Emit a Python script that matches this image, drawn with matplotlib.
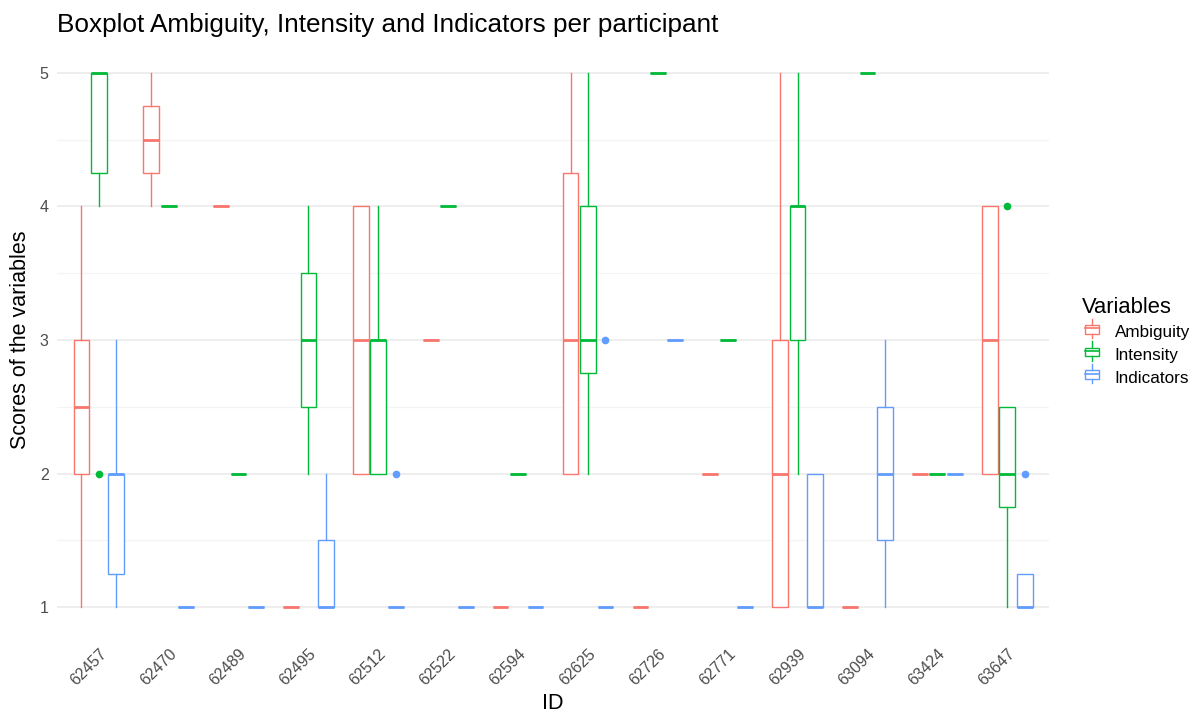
import matplotlib.pyplot as plt
import numpy as np
from matplotlib.legend_handler import HandlerBase
from matplotlib.patches import Rectangle
from matplotlib.lines import Line2D

plt.rcParams['font.family'] = ['Liberation Sans', 'DejaVu Sans']

ids = ['62457', '62470', '62489', '62495', '62512', '62522', '62594',
       '62625', '62726', '62771', '62939', '63094', '63424', '63647']
variables = ['Ambiguity', 'Intensity', 'Indicators']
colors = ['#F8766D', '#00BA38', '#619CFF']

# (whisker low, q1, median, q3, whisker high) per participant
ambiguity = [(1, 2, 2.5, 3, 4), (4, 4.25, 4.5, 4.75, 5), (4, 4, 4, 4, 4),
             (1, 1, 1, 1, 1), (2, 2, 3, 4, 4), (3, 3, 3, 3, 3),
             (1, 1, 1, 1, 1), (2, 2, 3, 4.25, 5), (1, 1, 1, 1, 1),
             (2, 2, 2, 2, 2), (1, 1, 2, 3, 5), (1, 1, 1, 1, 1),
             (2, 2, 2, 2, 2), (2, 2, 3, 4, 4)]
intensity = [(4, 4.25, 5, 5, 5), (4, 4, 4, 4, 4), (2, 2, 2, 2, 2),
             (2, 2.5, 3, 3.5, 4), (2, 2, 3, 3, 4), (4, 4, 4, 4, 4),
             (2, 2, 2, 2, 2), (2, 2.75, 3, 4, 5), (5, 5, 5, 5, 5),
             (3, 3, 3, 3, 3), (2, 3, 4, 4, 5), (5, 5, 5, 5, 5),
             (2, 2, 2, 2, 2), (1, 1.75, 2, 2.5, 2.5)]
indicators = [(1, 1.25, 2, 2, 3), (1, 1, 1, 1, 1), (1, 1, 1, 1, 1),
              (1, 1, 1, 1.5, 2), (1, 1, 1, 1, 1), (1, 1, 1, 1, 1),
              (1, 1, 1, 1, 1), (1, 1, 1, 1, 1), (3, 3, 3, 3, 3),
              (1, 1, 1, 1, 1), (1, 1, 1, 2, 2), (1, 1.5, 2, 2.5, 3),
              (2, 2, 2, 2, 2), (1, 1, 1, 1.25, 1.25)]

# outliers by participant index
ambiguity_out = {}
intensity_out = {0: [2], 13: [4]}
indicators_out = {4: [2], 7: [3], 13: [2]}

summaries = [ambiguity, intensity, indicators]
outliers = [ambiguity_out, intensity_out, indicators_out]


def make_stats(rows, outs):
    stats = []
    for i, (lo, q1, med, q3, hi) in enumerate(rows):
        stats.append(dict(whislo=lo, q1=q1, med=med, q3=q3, whishi=hi,
                          fliers=outs.get(i, [])))
    return stats


class BoxKeyHandler(HandlerBase):
    # small boxplot glyph for the legend keys
    def create_artists(self, legend, orig_handle, xdescent, ydescent,
                       width, height, fontsize, trans):
        c = orig_handle.get_edgecolor()
        cx = width / 2 - xdescent
        bw = width * 0.75
        top = height * 1.05
        bot = -height * 0.05
        rect = Rectangle((cx - bw / 2, bot + height * 0.25), bw, height * 0.5,
                         facecolor='white', edgecolor=c, lw=1.0, transform=trans)
        med = Line2D([cx - bw / 2, cx + bw / 2], [height / 2, height / 2],
                     color=c, lw=1.2, transform=trans)
        w1 = Line2D([cx, cx], [bot, bot + height * 0.25], color=c, lw=1.0, transform=trans)
        w2 = Line2D([cx, cx], [bot + height * 0.75, top], color=c, lw=1.0, transform=trans)
        return [rect, med, w1, w2]


fig = plt.figure(figsize=(11.99, 7.15), dpi=100)
ax = fig.add_axes([0.0475, 0.1133, 0.8275, 0.8224])

x = np.arange(1, len(ids) + 1)
offsets = [-0.25, 0.0, 0.25]

for k in range(3):
    c = colors[k]
    ax.bxp(make_stats(summaries[k], outliers[k]), positions=x + offsets[k],
           widths=0.225, showcaps=False, patch_artist=True,
           boxprops=dict(facecolor='white', edgecolor=c, linewidth=1.0),
           whiskerprops=dict(color=c, linewidth=1.0),
           medianprops=dict(color=c, linewidth=2.0, solid_capstyle='butt'),
           flierprops=dict(marker='o', markerfacecolor=c, markeredgecolor=c,
                           markersize=4.5, linestyle='none'),
           manage_ticks=False, zorder=3)

ax.set_xlim(0.4, len(ids) + 0.6)
ax.set_ylim(0.8, 5.2)
ax.set_yticks([1, 2, 3, 4, 5])
ax.set_yticks(np.arange(1.5, 5, 1.0), minor=True)
ax.set_xticks(x)
ax.set_xticklabels(ids, rotation=45, ha='right', rotation_mode='anchor')

ax.grid(True, which='major', axis='y', color='#EBEBEB', linewidth=1.2, zorder=0)
ax.grid(True, which='minor', axis='y', color='#F4F4F4', linewidth=0.9, zorder=0)
for xv in np.arange(0.5, len(ids) + 1, 1.0):
    ax.axvline(xv, color='white', linewidth=2.2, zorder=1)

for s in ax.spines.values():
    s.set_visible(False)
ax.tick_params(axis='both', which='both', length=0, colors='#4D4D4D', labelsize=11.5)
ax.tick_params(axis='x', pad=9)
ax.tick_params(axis='y', pad=6)

ax.set_xlabel('ID', fontsize=15.5, color='black', labelpad=3)
ax.set_ylabel('Scores of the variables', fontsize=15.5, color='black', labelpad=6)
ax.set_title('Boxplot Ambiguity, Intensity and Indicators per participant',
             fontsize=18.8, loc='left', x=0.0, pad=10)

handles = [Rectangle((0, 0), 1, 1, edgecolor=c, facecolor='white') for c in colors]
leg = fig.legend(handles, variables, title='Variables', loc='center left',
                 bbox_to_anchor=(0.897, 0.523), borderaxespad=0.0, frameon=False,
                 fontsize=12.3, title_fontsize=15.8,
                 handler_map={Rectangle: BoxKeyHandler()},
                 handlelength=1.1, handleheight=1.2, labelspacing=0.3,
                 handletextpad=0.8)
leg._legend_box.align = 'left'

fig.savefig('out.png', dpi=100)
